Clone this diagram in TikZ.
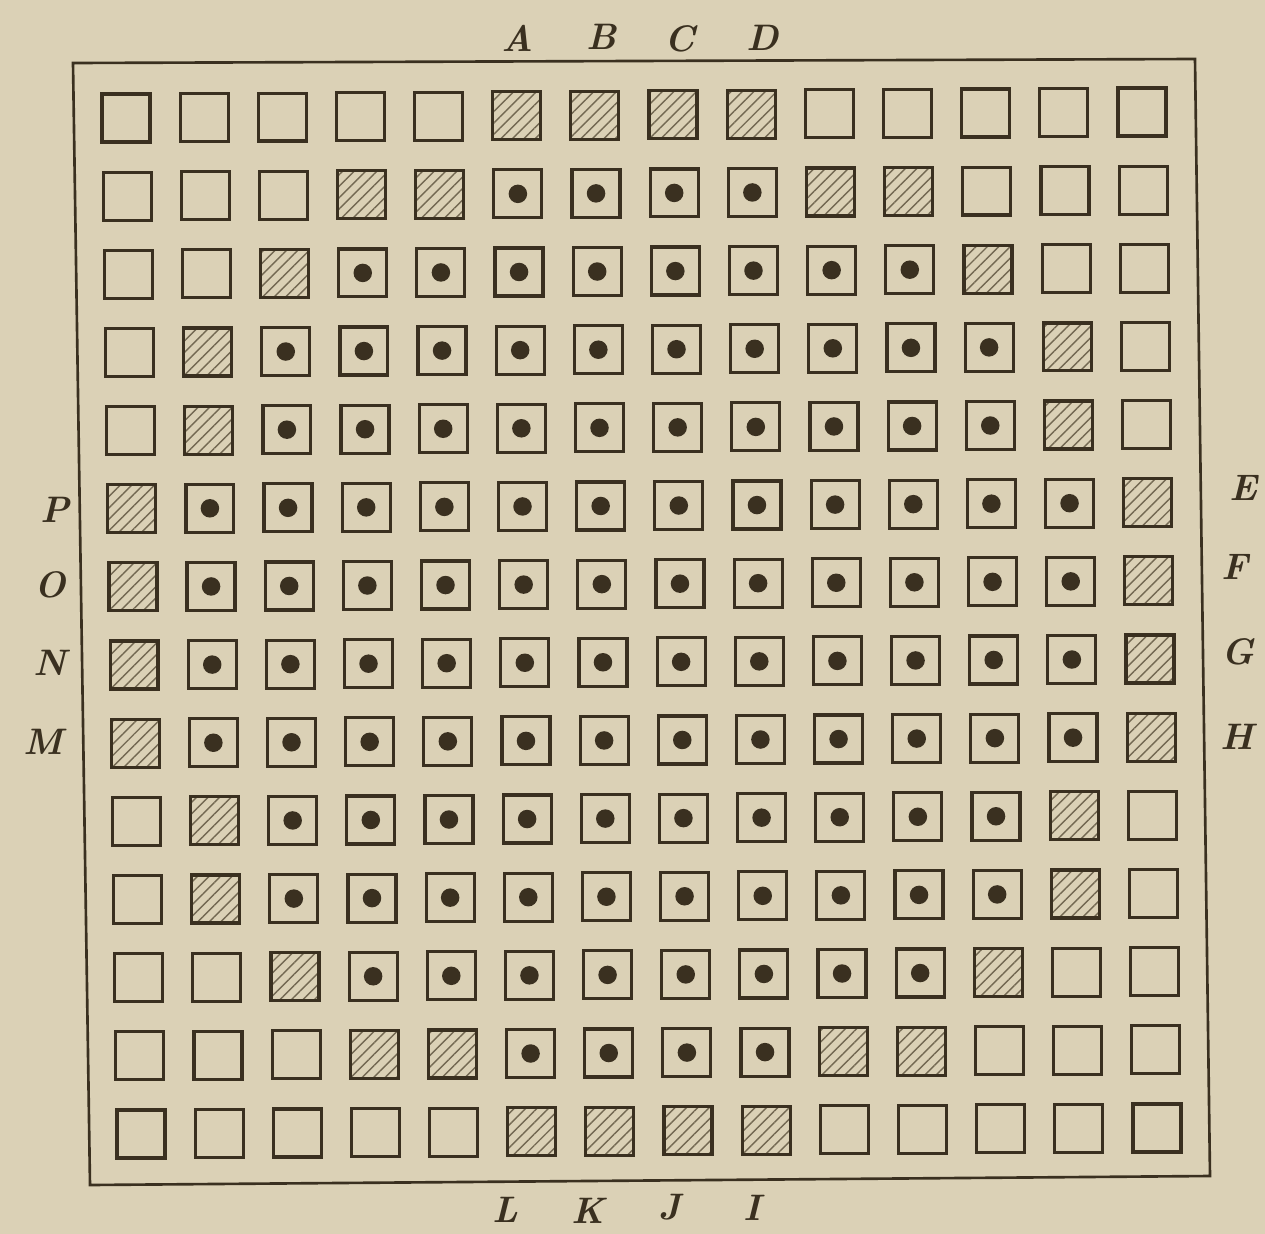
\documentclass[tikz,border=0pt]{standalone}
\usetikzlibrary{patterns.meta}
\definecolor{paper}{RGB}{219,209,182}
\definecolor{ink}{RGB}{58,48,32}
\definecolor{hatch}{RGB}{115,104,82}
\begin{document}
\begin{tikzpicture}[x=0.02cm,y=-0.02cm,
  cellbase/.style={draw=ink, line width=1.8pt, minimum size=0.96cm, inner sep=0pt, outer sep=0pt},
  cell0/.style={cellbase},
  cell1/.style={cellbase, pattern={Lines[angle=45,distance=4.6pt,line width=0.8pt]}, pattern color=hatch},
  cell2/.style={cellbase, path picture={\fill[ink] (path picture bounding box.center) circle (0.185cm);}},
  lab/.style={text=ink, font=\fontsize{21}{24}\selectfont\bfseries\itshape, inner sep=0pt}]
\fill[paper] (0,0) rectangle (1265,1234);
\useasboundingbox (0,0) rectangle (1265,1234);
% frame
\coordinate (TL) at (73,63);
\coordinate (TR) at (1195,59);
\coordinate (BR) at (1210,1176);
\coordinate (BL) at (90,1185);
\draw[ink, line width=1.5pt] (TL) -- (TR) -- (BR) -- (BL) -- cycle;
% cells
\foreach \row [count=\r from 0] in {
 {0,0,0,0,0,1,1,1,1,0,0,0,0,0},
 {0,0,0,1,1,2,2,2,2,1,1,0,0,0},
 {0,0,1,2,2,2,2,2,2,2,2,1,0,0},
 {0,1,2,2,2,2,2,2,2,2,2,2,1,0},
 {0,1,2,2,2,2,2,2,2,2,2,2,1,0},
 {1,2,2,2,2,2,2,2,2,2,2,2,2,1},
 {1,2,2,2,2,2,2,2,2,2,2,2,2,1},
 {1,2,2,2,2,2,2,2,2,2,2,2,2,1},
 {1,2,2,2,2,2,2,2,2,2,2,2,2,1},
 {0,1,2,2,2,2,2,2,2,2,2,2,1,0},
 {0,1,2,2,2,2,2,2,2,2,2,2,1,0},
 {0,0,1,2,2,2,2,2,2,2,2,1,0,0},
 {0,0,0,1,1,2,2,2,2,1,1,0,0,0},
 {0,0,0,0,0,1,1,1,1,0,0,0,0,0}}{
  \foreach \t [count=\c from 0] in \row {
    \pgfmathsetmacro{\px}{126+78.15*\c+1.154*\r}
    \pgfmathsetmacro{\py}{118-0.4615*\c+78.15*\r}
    \node[cell\t] (s\r-\c) at (\px,\py) {};
  }
}
% labels
\node[lab] (lA) at (517,38) {A};
\node[lab] (lB) at (602,37) {B};
\node[lab] (lC) at (680,39) {C};
\node[lab] (lD) at (763,38) {D};
\node[lab] (lL) at (505,1210) {L};
\node[lab] (lK) at (588,1211) {K};
\node[lab] (lJ) at (670,1207) {J};
\node[lab] (lI) at (752,1208) {I};
\node[lab] (lP) at (55,510) {P};
\node[lab] (lO) at (50,585) {O};
\node[lab] (lN) at (50,663) {N};
\node[lab] (lM) at (43,742) {M};
\node[lab] (lE) at (1243,488) {E};
\node[lab] (lF) at (1235,567) {F};
\node[lab] (lG) at (1238,652) {G};
\node[lab] (lH) at (1237,737) {H};
\end{tikzpicture}
\end{document}
